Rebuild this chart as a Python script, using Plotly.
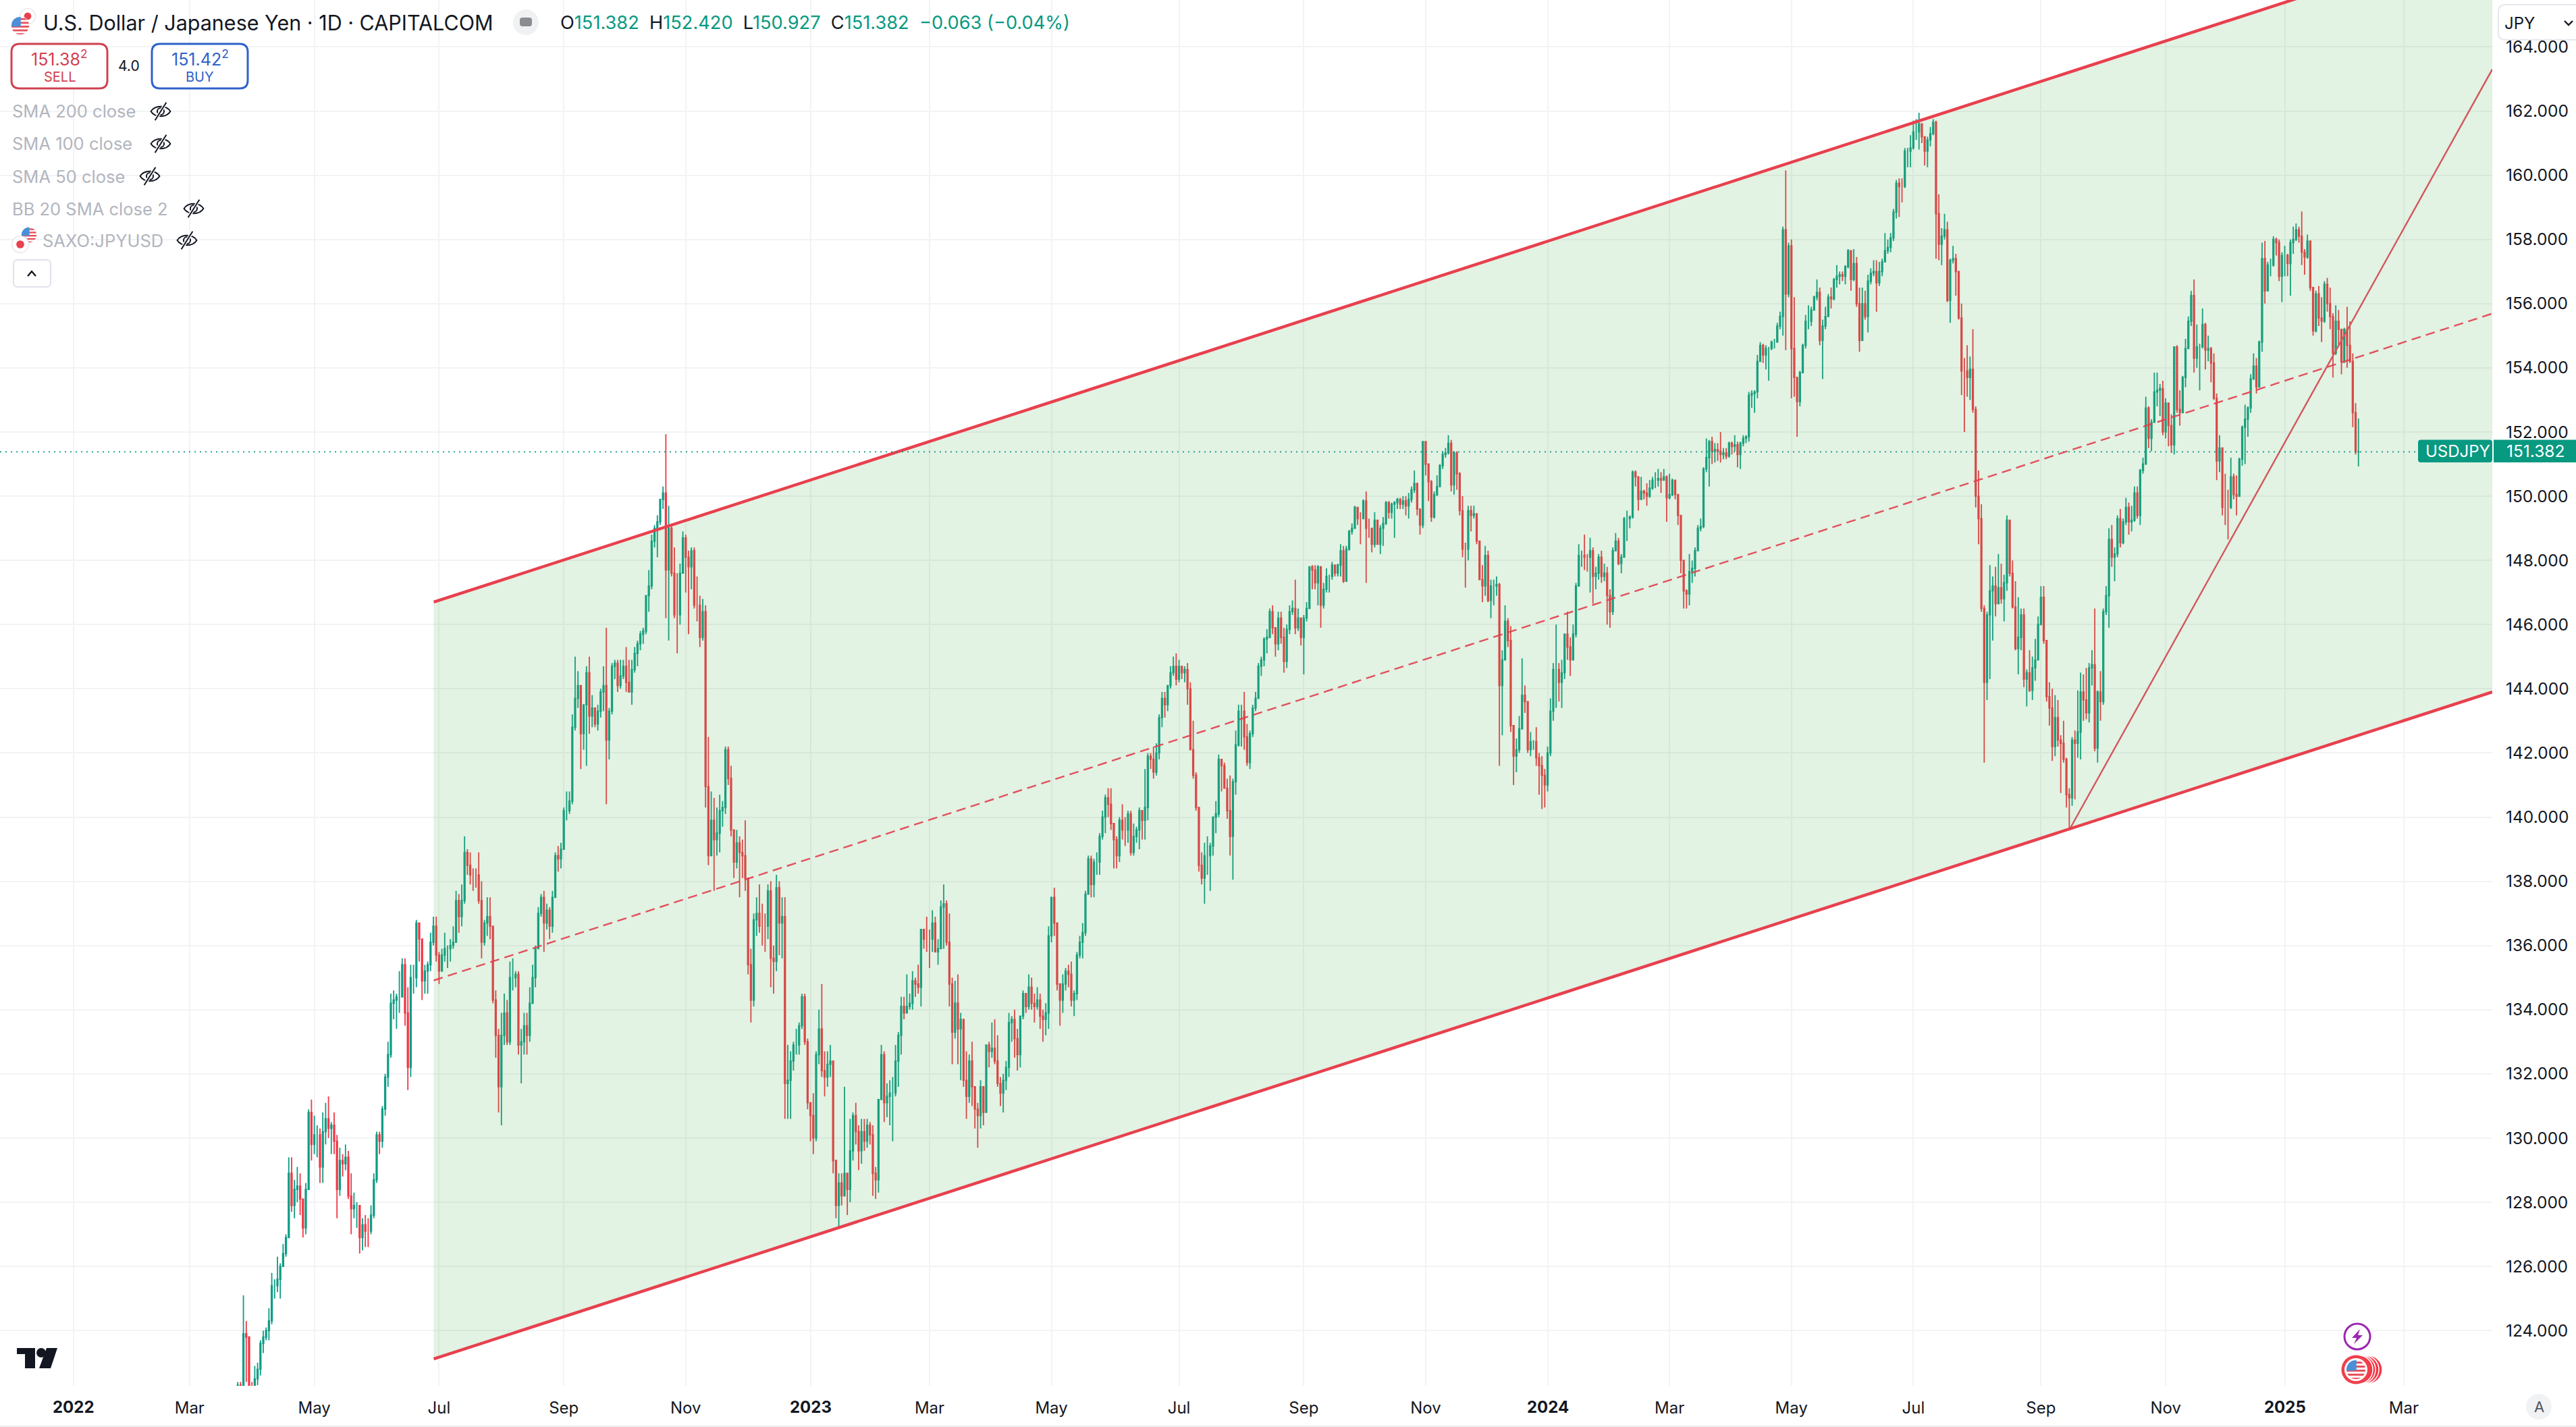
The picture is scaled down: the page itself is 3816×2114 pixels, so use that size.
import base64
import pandas as pd
import plotly.graph_objects as go

closes = [
122.3,122.1,123.9,123.8,121.8,121.7,
122.5,122.8,123.6,123.8,124.0,124.3,125.4,125.4,125.6,126.0,126.4,126.9,128.9,127.9,128.4,128.5,128.1,127.2,128.4,130.8,129.8,
130.1,130.1,129.1,130.2,130.6,130.3,130.4,129.9,128.4,129.3,129.2,129.4,128.2,127.8,127.9,127.9,126.9,127.3,127.1,127.1,127.6,128.7,
130.1,129.9,130.9,131.9,132.6,134.2,134.3,134.4,134.4,135.4,133.9,132.2,135.0,135.0,136.7,136.2,134.9,135.2,135.4,136.1,136.6,135.7,
135.2,135.7,135.9,135.9,136.0,136.1,137.4,136.9,137.4,138.9,138.5,138.2,138.2,138.2,137.4,136.1,136.7,136.9,136.6,134.3,133.2,
131.6,133.2,133.9,133.0,135.0,135.0,135.1,132.9,133.0,133.5,133.2,134.2,135.0,135.9,137.0,137.5,136.7,137.1,136.6,137.5,138.8,138.7,139.0,
140.2,140.2,140.5,142.8,143.7,144.1,142.6,143.5,144.5,143.15,143.4,142.9,143.3,143.9,144.1,142.4,143.3,144.7,144.8,144.1,144.4,144.7,
144.2,143.9,144.6,145.1,145.4,145.7,145.8,146.9,147.2,148.6,149.0,149.2,149.9,150.1,147.7,149.0,147.6,146.3,146.3,147.6,148.7,
148.1,147.8,148.3,146.6,146.6,145.6,146.4,140.95,138.8,139.9,139.3,139.5,140.2,140.3,142.1,141.2,139.6,138.6,139.2,138.9,138.8,138.1,
135.4,134.3,136.8,137.0,136.6,136.6,136.6,137.7,135.6,135.5,137.8,136.7,136.9,131.7,131.8,132.4,132.9,132.9,133.5,134.4,133.0,131.1,
130.7,130.0,132.6,133.4,132.1,131.9,132.3,132.4,129.3,127.9,128.6,128.2,128.9,128.4,129.6,130.7,130.2,129.6,130.2,129.9,130.4,130.1,
128.9,128.7,131.2,132.6,131.1,131.3,131.4,131.4,132.4,133.2,134.1,133.9,134.1,134.2,134.9,134.8,134.7,136.5,136.2,136.2,
136.2,136.7,135.8,135.9,137.2,137.3,136.1,134.8,133.3,134.2,133.4,133.7,131.8,131.3,132.4,131.6,130.9,130.7,131.6,130.8,132.9,132.7,132.8,
132.4,131.7,131.4,131.8,132.2,133.6,133.7,133.1,132.6,133.8,134.5,134.1,134.7,134.2,134.1,134.3,133.8,133.7,133.9,136.3,
137.5,136.7,134.8,134.3,134.8,135.2,135.1,134.3,134.5,135.7,136.1,136.4,137.6,138.7,137.9,138.6,138.6,139.4,140.0,140.6,140.4,139.8,139.3,
138.8,139.9,139.6,139.6,140.1,138.9,139.4,139.6,140.2,139.9,140.3,141.9,141.8,141.4,142.0,143.1,143.7,143.5,144.1,144.5,144.7,144.3,
144.7,144.5,144.6,144.0,142.1,141.3,140.3,138.5,138.1,138.8,138.8,139.1,140.0,140.1,141.8,141.6,140.9,140.2,139.4,141.1,142.25,
143.3,143.3,142.5,141.7,142.6,143.4,143.7,144.7,144.9,145.55,145.6,146.4,145.9,145.4,146.2,145.6,144.85,145.85,146.4,146.5,145.9,146.2,145.6,
146.2,146.5,147.8,147.7,147.3,147.8,146.6,147.1,147.5,147.5,147.85,147.6,147.85,148.3,147.35,148.35,148.9,149.0,149.65,149.3,149.3,
149.85,149.0,149.0,148.5,149.25,148.5,149.0,149.15,149.8,149.5,149.75,149.8,149.9,149.75,149.85,149.7,149.9,150.2,150.4,149.6,149.1,151.7,
151.0,150.45,149.35,150.05,150.3,150.95,151.3,151.35,151.65,150.35,151.35,150.7,149.55,148.35,148.35,149.55,149.4,149.45,148.6,147.4,147.2,148.15,
146.75,147.2,147.2,147.25,144.1,144.9,146.1,145.5,142.85,141.9,142.1,142.75,143.8,143.6,142.1,142.35,142.35,141.85,141.6,141.3,141.0,
142.0,143.3,144.6,144.6,144.2,144.5,145.7,145.3,144.9,145.7,147.2,148.15,148.15,148.1,148.1,148.3,147.5,147.6,148.1,147.5,147.6,146.9,
146.4,148.3,148.6,147.9,148.1,149.3,149.3,149.35,150.75,150.6,149.9,150.15,150.1,150.0,150.25,150.5,150.5,150.55,150.5,150.6,149.95,
150.05,150.5,150.05,149.4,148.0,147.05,146.95,147.65,147.75,148.3,149.0,149.05,150.85,151.2,151.7,151.4,151.45,151.4,151.3,151.35,151.25,
151.65,151.55,151.6,151.3,151.65,151.8,151.85,153.15,153.2,153.25,154.2,154.7,154.4,154.6,154.6,154.8,154.8,155.3,155.6,158.3,156.3,157.8,
154.6,153.7,152.95,153.85,154.7,155.45,155.45,155.8,156.2,156.35,154.85,155.3,155.6,156.2,156.15,156.75,156.85,156.9,156.85,157.15,157.65,156.75,157.25,
156.0,154.85,156.0,155.6,156.7,156.95,157.0,156.65,157.0,157.3,157.65,157.75,158.05,158.85,159.75,159.65,159.65,160.75,160.75,160.85,
161.35,161.35,161.6,161.2,160.75,161.1,161.3,161.65,158.8,157.85,158.1,158.3,156.1,157.35,157.4,157.0,155.55,153.9,153.9,153.7,153.95,152.7,150.0,
149.3,146.5,144.2,146.3,147.05,147.2,146.65,147.15,146.8,147.3,149.25,147.6,146.55,145.25,145.6,146.3,144.3,144.5,143.95,144.65,144.9,146.0,
146.85,145.5,143.75,143.4,142.2,143.1,142.4,142.3,141.8,140.7,140.6,142.4,142.3,142.65,143.9,143.65,143.25,144.65,144.75,142.15,143.9,
143.6,146.4,146.9,148.65,148.1,148.2,149.3,148.55,149.2,149.65,149.2,149.25,150.1,149.4,150.8,151.0,152.75,151.8,152.3,153.25,153.3,153.35,152.0,
152.9,152.2,151.6,154.65,152.7,152.6,153.7,154.6,155.45,156.25,154.3,154.65,154.65,155.35,154.55,154.6,154.15,153.05,151.1,151.5,149.65,
149.65,149.65,150.6,150.05,150.0,151.15,152.15,152.4,152.75,153.65,154.05,153.4,154.8,157.4,156.4,157.2,157.2,158.0,157.9,156.85,157.5,
157.5,157.25,157.9,158.0,158.3,158.1,157.6,157.45,157.95,156.5,155.15,156.3,155.55,155.45,156.6,156.0,155.6,154.45,155.45,155.2,154.2,155.2,
154.7,154.2,152.6,151.38,151.382,
]
highs = [
122.4,122.4,125.1,124.3,122.4,122.4,
122.9,123.0,123.7,124.0,124.1,124.7,125.8,125.6,126.3,126.1,126.7,127.0,129.4,129.4,128.7,129.1,128.9,128.1,128.6,130.9,131.2,
130.7,130.4,130.3,130.8,131.1,131.3,130.5,130.8,130.1,129.7,129.5,129.8,129.6,128.9,128.3,128.0,127.9,127.5,127.6,127.5,127.9,128.9,
130.2,130.2,131.0,132.0,133.0,134.5,134.6,134.5,135.2,135.6,135.6,134.7,135.4,135.4,136.8,136.7,136.2,135.4,135.5,136.4,136.9,136.9,
135.8,135.9,136.4,136.0,136.2,136.6,137.7,137.6,137.9,139.4,139.0,138.9,138.4,138.4,138.9,138.0,136.8,137.5,137.5,136.6,134.6,
133.4,133.9,134.5,134.3,135.5,135.6,135.2,135.2,133.4,133.9,133.9,134.7,135.4,136.0,137.2,137.6,137.7,137.3,137.2,137.7,138.9,139.1,139.2,
140.3,140.8,140.8,143.2,145.0,144.55,144.1,143.5,144.7,145.0,143.8,143.4,143.5,144.0,144.7,145.9,143.4,144.8,144.9,144.9,144.9,144.9,
145.3,144.9,144.9,145.3,145.5,145.8,145.9,146.9,147.7,148.8,149.1,149.4,149.9,150.3,151.93,149.7,149.1,148.4,147.6,147.9,148.9,
148.8,148.3,148.4,148.4,147.5,146.9,146.8,146.6,142.5,140.8,140.6,140.3,140.7,140.5,142.2,142.2,141.6,139.6,139.6,139.4,139.3,139.9,
138.1,135.9,137.0,137.5,137.9,137.3,137.0,137.9,138.0,136.0,138.2,138.0,137.5,137.5,132.9,132.7,133.0,133.4,133.6,134.5,134.5,133.1,
130.9,131.4,132.7,134.0,134.8,132.7,132.7,132.9,132.4,129.3,128.9,128.9,131.6,128.9,130.6,130.8,131.1,130.4,130.6,130.6,130.6,130.5,
130.4,129.1,131.2,132.9,132.7,131.7,131.8,131.9,132.9,133.3,134.4,134.4,135.1,134.5,135.2,135.0,135.4,136.5,136.5,136.9,
136.5,137.1,136.9,136.2,137.4,137.9,137.4,137.0,135.0,134.9,135.1,133.9,133.7,132.7,132.6,133.0,131.6,131.1,131.8,131.6,132.9,133.0,133.6,
133.7,133.2,131.9,132.0,132.4,133.9,133.8,134.0,133.4,133.8,134.6,134.5,135.1,135.0,134.5,134.7,134.5,134.0,134.2,136.6,
137.5,137.8,136.6,134.8,135.1,135.3,135.4,135.5,134.6,135.8,136.3,136.7,137.7,138.8,138.8,138.7,138.9,139.5,140.2,140.7,140.9,140.9,139.8,
139.4,140.0,140.4,140.0,140.2,140.2,139.8,139.7,140.3,140.2,141.5,142.0,142.0,142.2,142.3,143.2,143.9,143.9,144.1,144.7,145.0,145.1,
144.9,144.7,144.7,144.8,144.2,143.0,141.4,140.3,138.9,139.2,139.4,139.2,140.0,140.5,141.95,141.8,141.7,141.2,141.3,141.2,142.7,
143.5,143.5,143.9,142.9,142.7,143.5,143.9,144.8,145.0,145.6,145.85,146.5,146.6,145.9,146.4,146.4,145.9,146.0,146.6,146.75,147.4,146.5,146.2,
146.3,146.7,147.8,147.85,147.85,147.85,147.3,147.3,147.75,147.55,147.95,147.85,147.9,148.5,148.45,148.45,148.95,149.15,149.7,149.65,149.5,
149.9,150.15,149.3,149.0,149.5,149.25,149.1,149.35,149.85,149.85,149.8,149.85,149.95,149.95,150.0,150.0,150.1,150.3,150.8,150.4,149.5,151.7,
151.7,150.9,150.5,150.15,150.65,151.0,151.4,151.5,151.9,151.75,151.4,151.4,150.75,150.0,148.55,149.7,149.7,149.7,149.4,148.6,147.85,148.45,
148.3,147.4,147.4,147.5,147.3,145.2,146.6,146.2,145.95,142.85,142.45,143.15,144.95,144.1,143.6,142.65,142.4,142.8,142.0,141.9,141.5,
142.2,143.7,144.8,146.0,144.8,144.9,145.7,146.4,145.6,146.0,147.3,148.5,148.3,148.8,148.2,148.7,148.4,147.8,148.2,148.3,147.9,147.8,
147.1,148.4,148.85,148.7,148.2,149.35,149.55,149.4,150.8,150.8,150.5,150.6,150.2,150.4,150.5,150.6,150.75,150.85,150.75,150.85,150.65,
150.7,150.55,150.5,150.05,149.4,148.0,147.1,148.2,148.0,148.4,149.1,149.3,150.9,151.8,151.75,151.85,151.65,151.65,152.0,151.5,151.5,
151.7,151.7,151.9,151.7,151.7,151.9,151.9,153.25,153.3,153.3,154.4,154.8,154.75,154.7,154.65,154.85,154.9,155.4,155.75,158.4,160.15,157.9,
158.0,156.2,153.7,153.9,154.75,155.65,155.95,155.9,156.25,156.75,156.5,155.5,155.9,156.3,156.5,156.8,157.2,157.0,157.0,157.2,157.7,157.6,157.7,
157.45,156.5,156.5,156.4,156.9,157.1,157.35,157.35,157.3,157.4,158.2,158.0,158.2,158.95,159.85,159.9,159.9,160.85,160.85,161.25,
161.7,161.75,161.95,161.6,161.2,161.2,161.5,161.75,161.7,159.4,158.35,158.8,158.55,157.4,157.8,157.55,157.0,156.0,154.3,154.7,154.35,155.2,152.8,
150.8,149.75,146.6,146.4,147.85,147.5,147.8,148.2,147.9,147.55,149.4,149.25,148.0,147.35,146.85,146.5,146.5,144.6,145.2,145.0,145.55,146.25,
147.2,147.2,145.5,144.2,144.0,143.8,143.65,142.55,143.0,141.85,140.9,142.5,142.7,143.95,144.5,144.45,144.65,144.8,145.2,146.5,143.95,
144.55,146.5,147.2,149.0,149.1,148.4,149.4,149.6,149.3,149.95,149.8,149.7,150.3,150.3,150.85,151.2,153.1,152.8,152.4,153.85,153.85,153.5,153.6,
153.05,152.55,152.55,154.65,154.7,153.3,153.75,154.9,155.6,156.4,156.75,155.35,154.75,155.85,155.4,155.0,154.65,154.45,153.2,151.9,151.5,
150.7,150.2,151.2,150.7,150.65,151.2,152.2,152.85,152.8,153.8,154.45,154.3,154.85,157.9,157.95,157.3,157.4,158.1,158.05,158.0,157.6,
157.8,157.55,158.0,158.4,158.5,158.4,158.87,157.7,158.15,157.95,156.5,156.4,156.55,156.2,156.7,156.8,156.5,155.7,155.95,155.8,155.2,155.25,
155.9,155.45,154.45,152.9,152.42,
]
lows = [
120.9,121.2,122.0,122.4,121.2,121.2,
121.3,122.3,122.6,123.3,123.7,123.7,124.2,125.0,125.2,125.0,126.2,126.3,127.0,127.7,127.5,128.0,127.6,126.9,127.0,128.6,129.3,
129.5,129.4,128.6,128.6,129.8,130.0,129.5,129.5,127.5,128.2,128.8,129.0,128.1,127.0,127.5,127.2,126.4,126.5,126.6,126.6,127.0,127.5,
128.6,129.5,129.7,130.7,131.6,132.5,133.7,133.4,133.9,134.6,133.5,131.5,131.9,134.5,134.7,135.5,134.3,134.5,134.5,135.2,136.0,135.5,
134.8,135.3,135.5,135.3,135.5,135.9,136.1,136.4,136.6,137.3,138.2,137.9,137.7,137.8,137.3,135.6,136.0,136.3,136.2,134.2,132.5,
130.8,130.4,132.9,132.9,132.9,134.6,134.7,132.6,131.7,132.6,132.6,133.0,134.3,134.7,135.9,136.9,135.8,136.5,136.2,136.4,137.5,138.3,138.4,
139.0,139.9,140.1,140.4,142.7,143.4,141.5,142.1,141.6,142.6,142.8,142.8,142.7,143.1,143.3,140.4,141.8,143.2,144.3,143.9,144.0,144.3,
143.9,143.9,143.5,144.5,144.7,145.2,145.4,145.7,146.4,147.1,148.4,148.1,149.1,149.6,146.2,145.5,147.5,146.2,145.1,146.0,147.6,
147.0,145.7,147.1,146.5,146.1,145.3,145.5,140.3,138.5,138.9,137.7,138.8,138.9,139.7,140.1,141.0,139.4,138.1,138.4,137.5,138.1,137.7,
135.1,133.6,134.1,136.3,136.4,136.0,135.8,136.2,134.7,134.5,135.2,135.7,135.6,130.6,130.6,130.6,132.1,132.6,132.6,133.4,132.9,130.9,
129.9,129.5,129.9,132.3,131.9,131.3,131.6,131.9,128.9,127.5,127.2,127.9,128.2,127.6,128.0,129.3,129.8,129.0,129.2,129.6,129.7,129.8,
128.2,128.1,128.3,131.5,130.5,130.65,130.4,129.9,131.3,131.6,132.6,133.7,133.9,134.0,134.0,134.4,134.5,134.1,135.9,135.8,
135.3,135.8,135.8,135.4,135.9,135.9,136.0,134.1,132.3,133.1,132.3,131.8,131.6,130.6,131.1,131.0,130.3,129.7,130.3,130.4,130.8,132.2,132.5,
132.3,131.6,131.0,130.8,131.5,131.9,133.0,132.5,132.1,132.2,133.7,133.9,134.0,134.0,133.6,134.0,133.4,133.0,133.2,133.4,
136.1,136.3,134.6,133.5,133.9,134.6,134.7,134.1,133.8,134.3,135.6,135.6,136.3,137.6,137.5,137.5,138.2,138.2,139.3,139.5,140.0,139.6,138.4,
138.4,138.6,139.3,139.1,139.2,138.8,138.8,139.2,139.0,139.3,139.3,139.9,141.5,141.2,141.3,141.8,142.8,143.1,143.3,144.0,144.4,144.1,
144.2,144.3,144.2,143.5,142.1,141.2,140.2,138.3,137.9,137.3,138.2,137.7,138.8,139.5,140.0,140.8,140.9,139.95,138.8,138.05,140.7,
142.2,142.2,142.1,141.6,141.5,142.5,143.3,143.7,144.4,144.7,145.1,145.6,145.7,145.0,145.2,145.4,144.5,144.65,145.7,146.3,145.7,145.8,145.35,
144.45,146.1,146.5,147.1,147.1,146.6,145.9,146.5,147.0,147.0,147.4,147.5,147.5,147.5,147.3,147.55,148.3,148.8,149.0,149.1,148.5,
149.6,147.3,148.7,148.25,148.4,148.5,148.2,148.45,149.1,149.3,149.3,148.7,149.6,149.6,149.6,149.4,149.3,149.8,150.1,149.4,148.8,149.0,
150.65,149.85,149.2,149.3,150.0,150.3,150.85,151.2,151.3,150.15,150.05,150.2,149.4,148.1,147.15,148.0,148.9,149.3,148.5,147.4,146.7,146.9,
146.7,146.2,146.6,146.9,141.6,142.55,144.9,145.3,142.65,141.0,141.4,142.0,142.75,143.25,142.0,141.9,142.1,141.6,140.7,140.25,140.3,
140.8,141.9,143.0,143.4,143.6,143.4,144.3,144.9,144.4,144.9,145.6,147.2,147.8,147.7,147.65,147.0,146.65,147.1,147.4,147.3,147.35,146.0,
145.9,146.3,148.3,147.85,147.6,148.1,148.6,149.0,149.3,150.3,149.55,149.9,149.9,149.7,149.95,150.2,150.25,150.3,150.1,150.5,149.2,
149.9,150.0,149.9,149.1,147.6,146.5,146.5,146.6,147.3,147.5,148.3,148.9,149.0,150.75,150.3,151.0,151.05,151.1,151.05,151.15,151.15,
151.2,151.3,151.4,150.9,150.85,151.55,151.65,151.7,152.75,152.6,153.05,154.2,154.15,153.95,153.6,154.55,154.6,154.8,155.2,155.0,154.55,156.2,
153.05,153.1,151.85,152.8,153.85,154.6,155.2,155.3,155.8,156.1,154.7,153.65,155.2,155.6,155.85,156.1,156.5,156.6,156.7,156.6,157.1,156.4,156.7,
155.9,154.5,154.85,155.5,155.1,156.6,156.85,155.75,156.55,156.85,157.3,157.55,157.6,157.95,158.65,158.7,159.15,159.6,160.25,160.25,
160.8,161.1,160.8,161.0,160.3,160.25,160.9,161.25,157.4,157.35,157.2,158.0,156.05,155.4,157.25,156.25,155.5,153.15,152.0,153.1,153.0,152.6,149.65,
148.5,146.4,141.7,143.65,144.3,145.5,146.25,146.7,146.65,146.1,147.05,147.5,146.5,145.2,144.45,145.2,144.05,143.45,143.9,143.65,144.25,144.9,
146.0,145.4,143.6,142.85,141.75,141.9,142.2,140.75,141.7,140.3,139.6,140.35,140.55,141.85,141.8,143.0,143.05,142.95,144.1,142.05,141.7,
143.0,143.5,146.3,145.9,147.8,147.35,148.1,148.4,148.5,149.1,148.8,148.9,149.2,149.3,149.1,150.7,151.0,151.5,151.4,152.35,152.8,152.5,151.9,
151.8,151.55,151.35,151.3,152.6,152.2,152.65,153.4,154.7,155.3,153.85,154.0,153.3,154.6,153.95,154.2,153.55,153.0,150.5,150.75,149.4,
149.1,148.65,149.6,149.9,149.4,150.0,150.95,151.0,151.85,152.6,153.65,153.2,153.4,154.5,156.0,156.4,156.85,157.15,157.5,156.7,156.05,
156.85,156.85,156.25,157.55,157.95,157.9,157.2,156.9,157.4,156.4,155.0,155.1,155.3,154.8,155.4,155.75,155.2,153.7,154.4,154.7,153.8,154.15,
154.0,154.15,152.15,151.3,150.927,
]
first_open = [121.4]
opens = first_open + closes[:-1]

holidays = ["2024-01-01", "2024-12-25", "2025-01-01"]
all_days = pd.bdate_range("2022-01-03", "2025-02-07")
all_days = all_days[~all_days.isin(pd.to_datetime(holidays))]
n = min(len(closes), len(highs), len(lows))
print("lengths", len(closes), len(highs), len(lows))
dates = all_days[-n:]

month_ticks = ["2022-03-01","2022-05-02","2022-07-01","2022-09-01","2022-11-01",
               "2023-03-01","2023-05-01","2023-07-03","2023-09-01","2023-11-01",
               "2024-03-01","2024-05-01","2024-07-01","2024-09-02","2024-11-01",
               "2025-03-03"]
month_labels = ["Mar","May","Jul","Sep","Nov","Mar","May","Jul","Sep","Nov",
                "Mar","May","Jul","Sep","Nov","Mar"]
year_ticks = ["2022-01-03","2023-01-02","2024-01-02","2025-01-02"]
year_labels = ["2022","2023","2024","2025"]
price_ticks = list(range(124, 166, 2))

x_range = ["2021-11-26 03:24", "2025-04-15 05:00"]
channel_x = ["2022-06-29 03:00", "2025-04-15 05:00"]
channel_lower = [123.12, 143.9]
channel_mid = [134.91, 155.69]
channel_upper = [146.7, 167.48]
trend_x = ["2024-09-16", "2025-04-15 05:00"]
trend_y = [139.6, 163.3]
last_price = 151.382

GREEN = "#0f9c85"
RED = "#F23645"
INK = "#131722"
W, H = 3816, 2114
PW, PH = 3692, 2053
FONT = "Inter"

def xp(x): return x / PW
def yp(y): return 1 - y / PH

fig = go.Figure()
fig.add_trace(go.Candlestick(
    x=dates, open=opens[:n], high=highs[:n], low=lows[:n], close=closes[:n],
    increasing=dict(line=dict(color=GREEN, width=1.8), fillcolor=GREEN),
    decreasing=dict(line=dict(color=RED, width=1.8), fillcolor=RED),
    whiskerwidth=0, showlegend=False, hoverinfo="skip"))
fig.add_trace(go.Scatter(
    x=[channel_x[0], channel_x[1], channel_x[1], channel_x[0]],
    y=[channel_lower[0], channel_lower[1], channel_upper[1], channel_upper[0]],
    mode="none", fill="toself", fillcolor="rgba(76,175,80,0.16)", showlegend=False, hoverinfo="skip"))
fig.add_trace(go.Scatter(x=channel_x, y=channel_mid, mode="lines", showlegend=False, hoverinfo="skip",
                         line=dict(color="rgba(226,62,76,0.9)", width=2.4, dash="14px,8px")))
fig.add_trace(go.Scatter(x=trend_x, y=trend_y, mode="lines", showlegend=False, hoverinfo="skip",
                         line=dict(color="#D2565C", width=2.4)))
fig.add_trace(go.Scatter(x=channel_x, y=channel_lower, mode="lines", showlegend=False, hoverinfo="skip",
                         line=dict(color="#E8404E", width=4.4)))
fig.add_trace(go.Scatter(x=channel_x, y=channel_upper, mode="lines", showlegend=False, hoverinfo="skip",
                         line=dict(color="#E8404E", width=4.4)))

shapes, anns, imgs = [], [], []

def txt(x, y, s, size=24, color=INK, anchor="left", weight=None):
    f = dict(family=FONT, size=size, color=color)
    if weight: f["weight"] = weight
    anns.append(dict(xref="paper", yref="paper", x=xp(x), y=yp(y), text=s, showarrow=False,
                     xanchor=anchor, yanchor="middle", font=f, align=anchor, borderpad=0))

def rrect(x0, y0, x1, y1, r, line=None, fill=None, lw=3):
    X0, X1, Y0, Y1 = xp(x0), xp(x1), yp(y0), yp(y1)
    rx, ry = r / PW, r / PH
    p = (f"M{X0+rx},{Y0} L{X1-rx},{Y0} Q{X1},{Y0} {X1},{Y0-ry} L{X1},{Y1+ry} Q{X1},{Y1} {X1-rx},{Y1} "
         f"L{X0+rx},{Y1} Q{X0},{Y1} {X0},{Y1+ry} L{X0},{Y0-ry} Q{X0},{Y0} {X0+rx},{Y0} Z")
    shapes.append(dict(type="path", xref="paper", yref="paper", path=p, layer="above",
                       fillcolor=fill or "rgba(0,0,0,0)",
                       line=dict(color=line or "rgba(0,0,0,0)", width=lw if line else 0)))

def poly(pts, color, lw=2.4):
    p = "M" + " L".join(f"{xp(a)},{yp(b)}" for a, b in pts)
    shapes.append(dict(type="path", xref="paper", yref="paper", path=p, layer="above",
                       line=dict(color=color, width=lw)))

def svg_img(svg, cx, cy, w, h):
    src = "data:image/svg+xml;base64," + base64.b64encode(svg.encode()).decode()
    imgs.append(dict(source=src, xref="paper", yref="paper", x=xp(cx - w / 2), y=yp(cy - h / 2),
                     sizex=w / PW, sizey=h / PH, xanchor="left", yanchor="top", layer="above", sizing="stretch"))

def us_flag(cx, cy, r, ring="#ffffff"):
    c = r * 2
    stripes = "".join(f'<rect x="0" y="{i}" width="40" height="4" fill="#E8505B"/>' for i in (4, 12, 20, 28, 36))
    s = (f'<svg xmlns="http://www.w3.org/2000/svg" width="{c}" height="{c}" viewBox="0 0 40 40">'
         f'<defs><clipPath id="c"><circle cx="20" cy="20" r="19"/></clipPath></defs>'
         f'<g clip-path="url(#c)"><rect width="40" height="40" fill="#fff"/>{stripes}'
         f'<rect width="21" height="22" fill="#4A90D9"/></g>'
         f'<circle cx="20" cy="20" r="19.5" fill="none" stroke="{ring}" stroke-width="1"/></svg>')
    svg_img(s, cx, cy, c, c)

def jp_flag(cx, cy, r):
    c = r * 2
    s = (f'<svg xmlns="http://www.w3.org/2000/svg" width="{c}" height="{c}" viewBox="0 0 40 40">'
         f'<circle cx="20" cy="20" r="19" fill="#fff" stroke="#E3E3EA" stroke-width="2"/>'
         f'<circle cx="20" cy="20" r="9" fill="#E8404E"/></svg>')
    svg_img(s, cx, cy, c, c)

EYE = ('<svg xmlns="http://www.w3.org/2000/svg" width="30" height="30" viewBox="0 0 30 30">'
       '<path d="M3 15 C8 7 22 7 27 15 C22 23 8 23 3 15 Z" fill="none" stroke="#131722" stroke-width="1.7"/>'
       '<circle cx="15" cy="15" r="4.2" fill="none" stroke="#131722" stroke-width="1.7"/>'
       '<path d="M8 26 L22 4" stroke="#fff" stroke-width="4"/>'
       '<path d="M8 26 L22 4" stroke="#131722" stroke-width="1.7"/></svg>')
LOGO = ('<svg xmlns="http://www.w3.org/2000/svg" width="60" height="30" viewBox="0 0 60 30">'
        '<path d="M0 0 H27 V30 H12 V9 H0 Z" fill="#131722"/><circle cx="36" cy="7" r="7" fill="#131722"/>'
        '<path d="M44 0 H60 L50 30 H33 Z" fill="#131722"/></svg>')
BOLT = ('<svg xmlns="http://www.w3.org/2000/svg" width="42" height="42" viewBox="0 0 42 42">'
        '<circle cx="21" cy="21" r="19" fill="#fff" stroke="#9C27B0" stroke-width="3"/>'
        '<path d="M25 10 L13 23 H20 L16 32 L29 19 H22 Z" fill="#9C27B0"/></svg>')
STACK = ('<svg xmlns="http://www.w3.org/2000/svg" width="62" height="44" viewBox="0 0 62 44">'
         + "".join(f'<circle cx="{c}" cy="22" r="21" fill="#F23645" stroke="#fff" stroke-width="1.5"/>' for c in (40, 35, 30, 26))
         + '<circle cx="22" cy="22" r="21.5" fill="#F0404C"/><circle cx="22" cy="22" r="17" fill="#fff"/></svg>')

# ---- chrome ----
shapes.append(dict(type="line", xref="paper", yref="y", x0=0, x1=1, y0=last_price, y1=last_price, layer="above",
                   line=dict(color="#089981", width=1.6, dash="2px,6px")))
rrect(3582, 651.5, 3692, 685, 4, fill="#089981")
shapes.append(dict(type="rect", xref="paper", yref="paper", x0=xp(3694), x1=xp(3816), y0=yp(685), y1=yp(651.5),
                   layer="above", fillcolor="#089981", line=dict(width=0)))
txt(3592, 668.5, "USDJPY", 24, "#ffffff")
txt(3712, 668.5, "151.382", 24.5, "#ffffff")
shapes.append(dict(type="rect", xref="paper", yref="paper", x0=xp(3692.5), x1=xp(3816), y0=yp(60), y1=yp(0),
                   layer="above", fillcolor="#ffffff", line=dict(width=0)))
rrect(3701, 7, 3830, 59, 10, line="#E6E8EE", lw=2, fill="#ffffff")
txt(3709, 34, "JPY", 24)
poly([(3799, 31), (3805, 37), (3811, 31)], INK, 2.4)
shapes.append(dict(type="rect", xref="paper", yref="paper", x0=0, x1=xp(3816), y0=yp(2114), y1=yp(2112),
                   layer="above", fillcolor="#ECECEC", line=dict(width=0)))

# x-axis year labels, bold like the reference
for d, s in zip(year_ticks, year_labels):
    anns.append(dict(xref="x", yref="paper", x=d, y=yp(2084), text=s, showarrow=False, xanchor="center",
                     yanchor="middle", font=dict(family=FONT, size=24, color=INK, weight=700)))

# header
jp_flag(41, 24, 12)
us_flag(30, 38, 14, "#ffffff")
txt(63, 33, "U.S. Dollar / Japanese Yen · 1D · CAPITALCOM", 30.5)
shapes.append(dict(type="circle", xref="paper", yref="paper", x0=xp(760), x1=xp(798), y0=yp(52), y1=yp(14),
                   layer="above", fillcolor="#F0F1F3", line=dict(width=0)))
rrect(770, 26, 788, 39, 4, fill="#8A8C90")
G = "#089981"
def v(label, value):
    return f'<span style="color:{INK}">{label}</span><span style="color:{G}">{value}</span>'
txt(829, 33, v("O", "151.382") + "  " + v("H", "152.420") + "  " + v("L", "150.927") + "  " + v("C", "151.382")
    + f'  <span style="color:{G}">−0.063 (−0.04%)</span>', 27.2)

# trade buttons
rrect(17, 65, 159, 131, 12, line="#CF4250", lw=3, fill="#ffffff")
txt(88, 86, "151.38<sup>2</sup>", 25, "#D23F4E", "center")
txt(88, 114, "SELL", 20, "#D23F4E", "center")
txt(191, 98, "4.0", 21, INK, "center")
rrect(225, 65, 367, 131, 12, line="#2E62C9", lw=3, fill="#ffffff")
txt(296, 86, "151.42<sup>2</sup>", 25, "#2E62C9", "center")
txt(296, 114, "BUY", 20, "#2E62C9", "center")

# indicators
for label, y, ix in [("SMA 200 close", 165, 238), ("SMA 100 close", 213, 238), ("SMA 50 close", 261, 222),
                     ("BB 20 SMA close 2", 309, 287)]:
    txt(17, y, label, 25.5, "#B2B5BE")
    svg_img(EYE, ix, y, 36, 36)
us_flag(43, 348, 12)
jp_flag(30, 362, 13)
txt(62, 356, "SAXO:JPYUSD", 25.5, "#B2B5BE")
svg_img(EYE, 277, 356, 36, 36)
rrect(20, 385, 75, 425, 6, line="#E0E3EB", lw=2, fill="#ffffff")
poly([(41, 409), (47, 402), (53, 409)], INK, 2.4)

# bottom decorations
svg_img(LOGO, 55, 2012, 60, 30)
svg_img(BOLT, 3492, 1980, 42, 42)
svg_img(STACK, 3499, 2029, 62, 44)
us_flag(3490, 2029, 15)
shapes.append(dict(type="circle", xref="paper", yref="paper", x0=xp(3742), x1=xp(3780), y0=yp(2103), y1=yp(2065),
                   layer="above", fillcolor="#F1F2F3", line=dict(width=0)))
txt(3761, 2084, "A", 22, "#50535E", "center")

fig.update_layout(
    width=W, height=H, autosize=False, paper_bgcolor="#ffffff", plot_bgcolor="#ffffff",
    margin=dict(l=0, r=W - PW, t=0, b=H - PH, pad=0), showlegend=False, boxgap=0.5,
    font=dict(family=FONT, size=24, color=INK), shapes=shapes, annotations=anns, images=imgs,
    dragmode=False, hovermode=False,
    xaxis=dict(type="date", range=x_range, rangeslider=dict(visible=False),
               rangebreaks=[dict(bounds=["sat", "mon"]), dict(values=holidays)],
               tickmode="array", tickvals=month_ticks, ticktext=month_labels, showgrid=True,
               minor=dict(tickmode="array", tickvals=year_ticks, showgrid=True, gridcolor="#F2F3F5", gridwidth=2, ticks=""),
               gridcolor="#F2F3F5", gridwidth=2, showline=False, zeroline=False, ticks="",
               ticklabelstandoff=16, tickfont=dict(family=FONT, size=24, color=INK), tickangle=0),
    yaxis=dict(side="right", range=[122.28, 165.46], tickmode="array", tickvals=price_ticks,
               ticktext=[f"{p:.3f}" for p in price_ticks], showgrid=True, gridcolor="#F2F3F5", gridwidth=2,
               showline=False, zeroline=False, ticks="", ticklabelstandoff=19,
               tickfont=dict(family=FONT, size=24.5, color=INK)),
)

fig.write_html("out.html", config=dict(displayModeBar=False, staticPlot=True),
               post_script="document.body.style.margin='0';document.body.style.overflow='hidden';")
